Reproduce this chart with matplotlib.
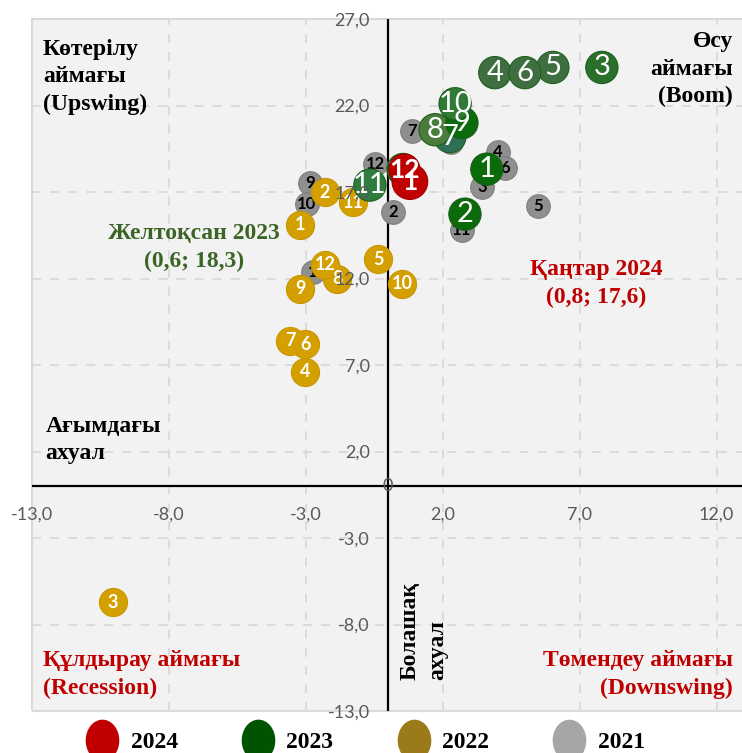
import matplotlib
matplotlib.use('Agg')
import matplotlib.pyplot as plt
from matplotlib.lines import Line2D
from matplotlib.patches import Rectangle
from matplotlib.path import Path
from matplotlib.transforms import Affine2D

# Дерек: ағымдағы ахуал (x) және болашақ ахуал (y), айлар бойынша
months = ['1', '2', '3', '4', '5', '6', '7', '8', '9', '10', '11', '12']

x_2021 = [-2.74, 0.18, 3.43, 4.0, 5.47, 4.27, 0.88, 2.3, -2.85, -2.96, 2.7, -0.47]
y_2021 = [12.4, 15.84, 17.3, 19.3, 16.2, 18.4, 20.5, 19.9, 17.5, 16.3, 14.8, 18.6]

x_2022 = [-3.21, -2.3, -10.04, -3.03, -0.36, -3.03, -3.58, -1.86, -3.21, 0.51, -1.28, -2.3]
y_2022 = [15.1, 17.0, -6.7, 6.6, 13.1, 8.2, 8.4, 12.0, 11.4, 11.7, 16.4, 12.8]

x_2023 = [3.61, 2.81, 7.81, 3.9, 6.02, 5.0, 2.26, 1.72, 2.7, 2.45, -0.66, 0.55]
y_2023 = [18.32, 15.72, 24.2, 23.9, 24.2, 23.9, 20.2, 20.6, 21.0, 22.1, 17.4, 18.3]

months_2024 = ['12', '1']
x_2024 = [0.6, 0.8]
y_2024 = [18.3, 17.6]

xticks = [-13, -8, -3, 2, 7, 12]
yticks = [-13, -8, -3, 2, 7, 12, 17, 22, 27]

# түстер
red = '#c00000'
gold = '#d4a000'
grey = '#8f8f8f'
green_shades = ['#0b6b0b', '#0b6b0b', '#2a702a', '#3f6f40', '#3f6f40', '#3f6f40',
                '#2f6f55', '#4a7d3b', '#0b6b0b', '#2f7a35', '#2e7d3e', '#0b6b0b']

fig = plt.figure(figsize=(7.42, 7.53), dpi=100)
ax = fig.add_axes([32 / 742, 1 - 711 / 753, 712 / 742, 692 / 753])
ax.set_facecolor('#f2f2f2')
ax.set_xlim(-13, 13)
ax.set_ylim(-13, 27)

# осьтер нөл нүктесінде қиылысады
ax.spines['left'].set_position(('data', 0))
ax.spines['bottom'].set_position(('data', 0))
for s in ax.spines.values():
    s.set_color('none')
ax.add_patch(Rectangle((0, 0), 1, 1, transform=ax.transAxes, fill=False,
                       ec='#d9d9d9', lw=1.5, zorder=0.3, clip_on=False))
for v in xticks:
    ax.axvline(v, color='#d9d9d9', lw=1.3, ls=(0, (5, 5)), zorder=0.2)
for v in yticks:
    ax.axhline(v, color='#d9d9d9', lw=1.3, ls=(0, (5, 5)), zorder=0.2)
ax.axvline(0, color='black', lw=1.6, zorder=0.5)
ax.axhline(0, color='black', lw=1.6, zorder=0.5)

ax.set_xticks(xticks)
ax.set_xticklabels([f'{v},0' for v in xticks])
ax.set_yticks(yticks)
ax.set_yticklabels([f'{v},0' for v in yticks])
ax.tick_params(length=0, labelsize=13, labelcolor='#595959')
ax.tick_params(axis='x', pad=15)
ax.tick_params(axis='y', pad=13)
for t in ax.get_xticklabels() + ax.get_yticklabels():
    t.set_fontfamily('Lato')
ax.text(0, 0, '0', ha='center', va='center', fontsize=13, color='#595959',
        family='Lato', zorder=1.6)

# нүктелер мен белгілер: әр серия өз қабатында
ax.scatter(x_2021, y_2021, s=290, color=grey, edgecolors='#7f7f7f', lw=0.8, zorder=1.0)
for m, x, y in zip(months, x_2021, y_2021):
    ax.text(x, y, m, ha='center', va='center', fontsize=12, fontweight='bold',
            color='black', family='Lato', zorder=1.05)

ax.scatter(x_2022, y_2022, s=410, color=gold, edgecolors='#c89600', lw=0.8, zorder=1.1)
for m, x, y in zip(months, x_2022, y_2022):
    ax.text(x, y, m, ha='center', va='center', fontsize=13, fontweight='bold',
            color='white', family='Lato', zorder=1.15)

ax.scatter(x_2023, y_2023, s=540, color=green_shades, edgecolors='#1d5e1d', lw=0.8, zorder=1.2)
for m, x, y in zip(months, x_2023, y_2023):
    ax.text(x, y, m, ha='center', va='center', fontsize=21,
            color='white', family='Lato', zorder=1.25)

ax.scatter(x_2024, y_2024, s=[500, 660], color=red, edgecolors='#a00000', lw=0.8, zorder=1.3)
for m, x, y in zip(months_2024, x_2024, y_2024):
    ax.text(x, y, m, ha='center', va='center', fontsize=19, fontweight='bold',
            color='white', family='Lato', zorder=1.35)

# аймақ жазулары
serif = dict(family='Liberation Serif', fontweight='bold', fontsize=17, linespacing=1.4, zorder=4)
ax.text(-12.6, 25.85, 'Көтерілу\nаймағы\n(Upswing)', ha='left', va='top', color='black', **serif)
ax.text(12.6, 26.3, 'Өсу\nаймағы\n(Boom)', ha='right', va='top', color='black', **serif)
ax.text(-7.1, 13.8, 'Желтоқсан 2023\n(0,6; 18,3)', ha='center', va='center',
        color='#3b6524', **serif)
ax.text(7.6, 11.7, 'Қаңтар 2024\n(0,8; 17,6)', ha='center', va='center', color=red, **serif)
ax.text(-12.5, 2.65, 'Ағымдағы\nахуал', ha='left', va='center', color='black', **serif)
ax.text(-12.6, -10.9, 'Құлдырау аймағы\n(Recession)', ha='left', va='center', color=red, **serif)
ax.text(12.6, -10.9, 'Төмендеу аймағы\n(Downswing)', ha='right', va='center', color=red, **serif)
ax.text(1.3, -11.2, 'Болашақ\nахуал', rotation=90, ha='center', va='bottom',
        multialignment='left', color='black', **serif)

# аңыз
oval = Path.unit_circle().transformed(Affine2D().scale(0.8, 1.0))
handles = [Line2D([], [], ls='', marker=oval, markersize=29, color=c)
           for c in [red, '#005300', '#9b7a1a', '#a6a6a6']]
fig.legend(handles, ['2024', '2023', '2022', '2021'], loc='center',
           bbox_to_anchor=(0.4906, 0.014), ncol=4, frameon=False,
           prop=dict(family='Liberation Serif', weight='bold', size=17),
           columnspacing=2.6, handletextpad=0.4, handlelength=1.6)

plt.savefig('out.png', dpi=100)
